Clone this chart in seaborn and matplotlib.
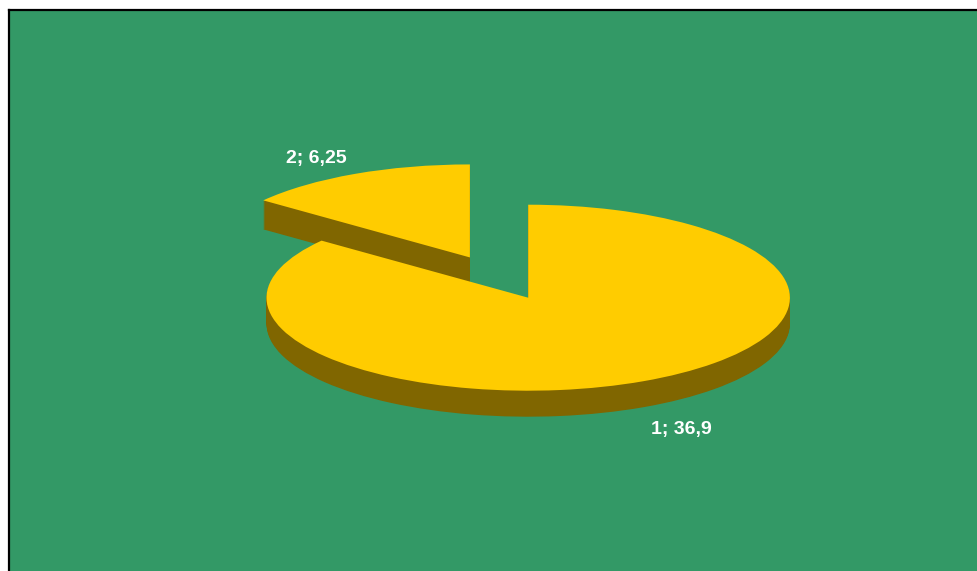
import matplotlib
matplotlib.use("Agg")
import matplotlib.pyplot as plt
import seaborn as sns

categories = ["1", "2"]
values = [36.9, 6.25]
explode = [0, 0.5]
label_pixels = [(681, 429.5), (316, 158.5)]

GREEN = "#339966"
YELLOW = "#FFCC00"
DARK = "#806600"

W, H = 978, 571
CX, CY, RX, RY = 528.2, 297.7, 261.7, 93
DEPTH_MAIN, DEPTH_SLICE = 26, 29
SLICE_SHIFT_X, SLICE_SHIFT_Y = -0.8, 1.5
LEFT, TOP, RIGHT, BOTTOM = 9, 10, 1000, 590

sns.set_theme(style="white")
plt.rcParams["font.family"] = ["Liberation Sans", "DejaVu Sans"]

fig = plt.figure(figsize=(W / 100, H / 100), dpi=100, facecolor="white")
ax = fig.add_axes([LEFT / W, 1 - BOTTOM / H, (RIGHT - LEFT) / W, (BOTTOM - TOP) / H])
ax.set_facecolor(GREEN)


def layer(offset_px, color, z):
    wedges, _ = ax.pie(
        values,
        explode=explode,
        startangle=90,
        counterclock=False,
        colors=[color, color],
        center=(0, -offset_px / RY),
        radius=1,
        wedgeprops={"linewidth": 0},
    )
    # the exploded slice lies behind the main slice
    cx, cy = wedges[1].center
    wedges[1].set_center((cx + SLICE_SHIFT_X / RX, cy - SLICE_SHIFT_Y / RY))
    wedges[1].set_visible(offset_px <= DEPTH_SLICE)
    wedges[0].set_visible(offset_px <= DEPTH_MAIN)
    wedges[1].set_zorder(z)
    wedges[0].set_zorder(z + 10)


for d in range(max(DEPTH_MAIN, DEPTH_SLICE), 0, -1):
    layer(d, DARK, 1)
layer(0, YELLOW, 2)

ax.set_aspect("auto")
ax.set_xlim((LEFT - CX) / RX, (RIGHT - CX) / RX)
ax.set_ylim((CY - BOTTOM) / RY, (CY - TOP) / RY)
ax.set_xticks([])
ax.set_yticks([])
ax.set_frame_on(True)
for s in ax.spines.values():
    s.set_visible(True)
    s.set_color("black")
    s.set_linewidth(1.6)
    s.set_zorder(50)

for cat, val, (px, py) in zip(categories, values, label_pixels):
    ax.text(
        (px - CX) / RX,
        (CY - py) / RY,
        f"{cat}; {val}".replace(".", ","),
        color="white",
        fontweight="bold",
        fontsize=14,
        ha="center",
        va="center",
        zorder=40,
    )

fig.savefig("out.png", dpi=100, facecolor="white")
